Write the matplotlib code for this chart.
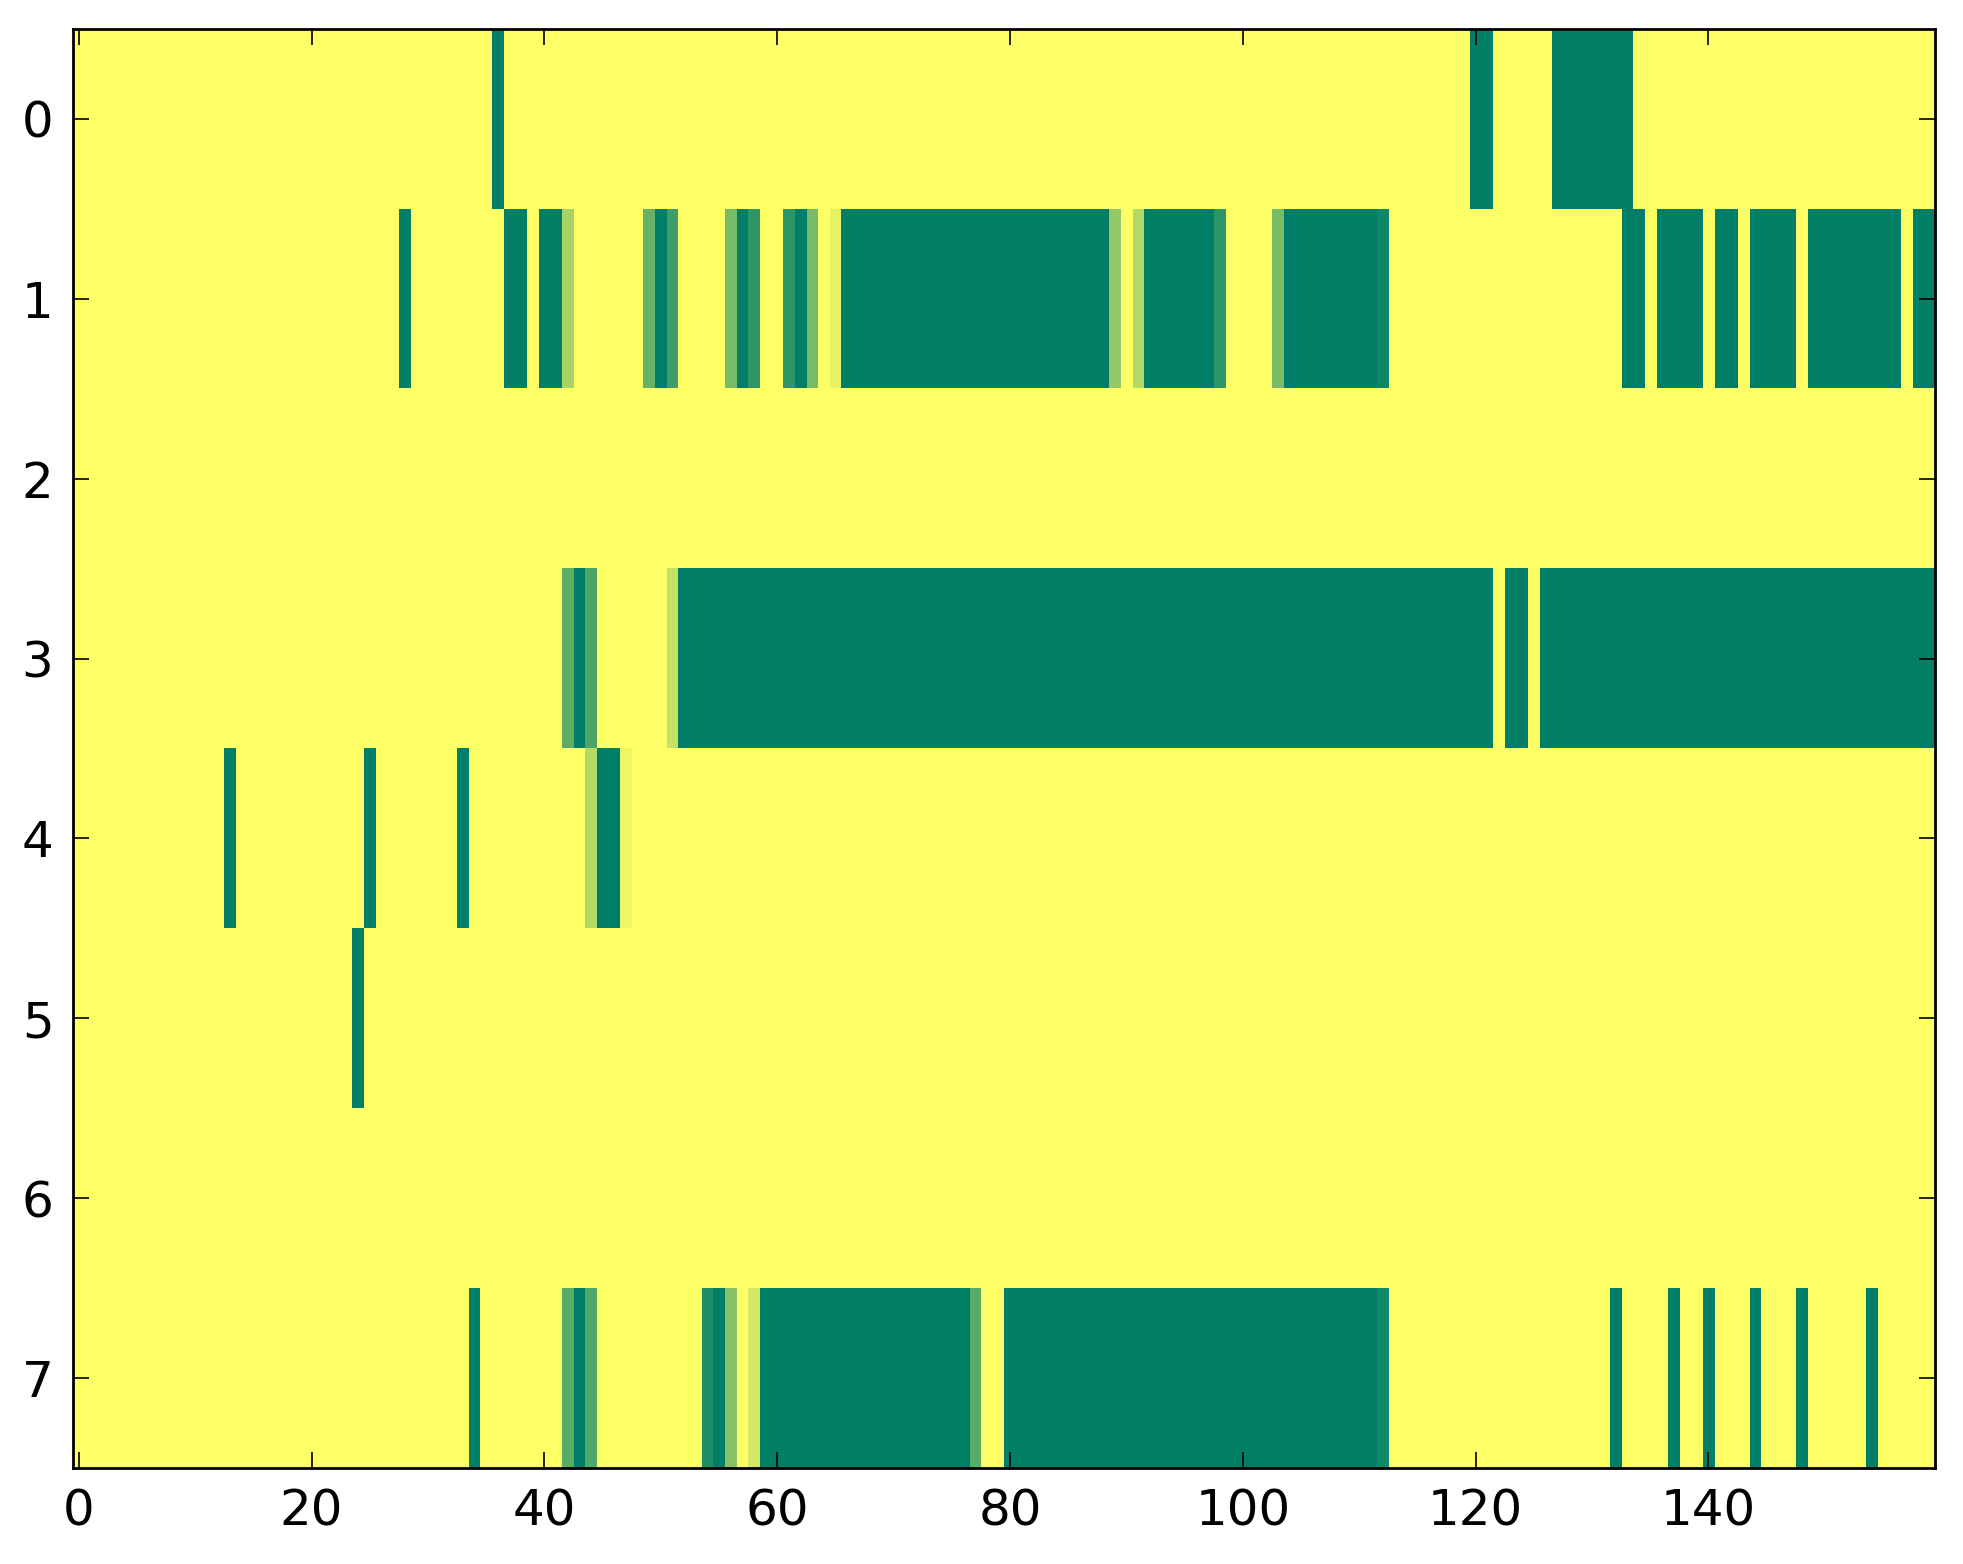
import numpy as np
import matplotlib
matplotlib.use("Agg")
import matplotlib.pyplot as plt

n_rows = 8
n_cols = 160

# (first column, last column, value) for every cell that is not 1.0
row0 = [(36, 36, 0), (120, 121, 0), (127, 133, 0)]
row1 = [(28, 28, 0), (37, 38, 0), (40, 41, 0), (42, 42, 0.66), (49, 49, 0.40),
        (50, 50, 0), (51, 51, 0.24), (56, 56, 0.47), (57, 57, 0), (58, 58, 0.18),
        (61, 61, 0.18), (62, 62, 0), (63, 63, 0.47), (65, 65, 0.90), (66, 88, 0),
        (89, 89, 0.58), (91, 91, 0.70), (92, 97, 0), (98, 98, 0.18),
        (103, 103, 0.48), (104, 111, 0), (112, 112, 0.06), (133, 134, 0),
        (136, 139, 0), (141, 142, 0), (144, 147, 0), (149, 156, 0), (158, 159, 0)]
row2 = []
row3 = [(42, 42, 0.36), (43, 43, 0), (44, 44, 0.30), (51, 51, 0.77),
        (52, 121, 0), (123, 124, 0), (126, 159, 0)]
row4 = [(13, 13, 0), (25, 25, 0), (33, 33, 0), (44, 44, 0.70), (45, 46, 0),
        (47, 47, 0.93)]
row5 = [(24, 24, 0)]
row6 = []
row7 = [(34, 34, 0), (42, 42, 0.35), (43, 43, 0), (44, 44, 0.32), (54, 54, 0.12),
        (55, 55, 0), (56, 56, 0.53), (58, 58, 0.83), (59, 76, 0), (77, 77, 0.35),
        (80, 111, 0), (112, 112, 0.07), (132, 132, 0), (137, 137, 0),
        (140, 140, 0), (144, 144, 0), (148, 148, 0), (154, 154, 0)]

rows = [row0, row1, row2, row3, row4, row5, row6, row7]

data = np.ones((n_rows, n_cols))
for r, segs in enumerate(rows):
    for a, b, v in segs:
        data[r, a:b + 1] = v

W, H, DPI = 1963, 1564, 200
fig = plt.figure(figsize=(W / DPI, H / DPI), dpi=DPI)
ax = fig.add_axes([72.9 / W, 1 - 1468 / H, (1935.3 - 72.9) / W, (1468 - 29) / H])
ax.imshow(data, cmap="summer", vmin=0, vmax=1, aspect="auto",
          interpolation="nearest")

ax.set_xticks(np.arange(0, 160, 20))
ax.set_yticks(np.arange(0, 8))
ax.tick_params(direction="in", top=True, right=True, length=5.6, width=0.6,
               labelsize=18, pad=7)
for s in ax.spines.values():
    s.set_linewidth(1.0)

fig.savefig("out.png", dpi=DPI)
